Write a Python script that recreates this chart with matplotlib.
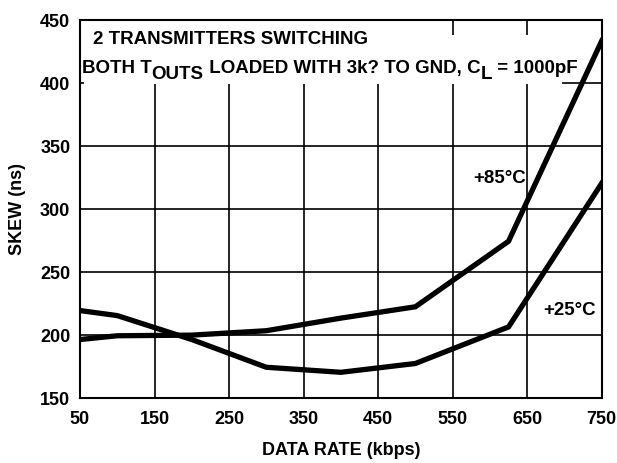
import matplotlib
matplotlib.use("Agg")
import matplotlib.pyplot as plt
from matplotlib.patches import Rectangle

# ---- data ----
x_rate = [50, 100, 200, 300, 400, 500, 625, 750]
skew_25c = [219, 215, 196, 174, 170, 177, 206, 320]
skew_85c = [196, 199, 199.5, 203, 213, 222, 274, 433]
x_ticks = [50, 150, 250, 350, 450, 550, 650, 750]
y_ticks = [150, 200, 250, 300, 350, 400, 450]

plt.rcParams['font.family'] = ['Liberation Sans', 'DejaVu Sans']
plt.rcParams['font.weight'] = 'bold'

W, H = 617, 464
fig = plt.figure(figsize=(W / 100, H / 100), dpi=100)
left, right, top, bottom = 80, 601.7, 20.5, 398.5
ax = fig.add_axes([left / W, 1 - bottom / H, (right - left) / W, (bottom - top) / H])

ax.set_xlim(50, 750)
ax.set_ylim(150, 450)
ax.set_xticks(x_ticks)
ax.set_yticks(y_ticks)
ax.set_xticklabels([str(v) for v in x_ticks], fontsize=13, fontweight='bold')
ax.set_yticklabels([str(v) for v in y_ticks], fontsize=13, fontweight='bold')
ax.tick_params(length=0, pad=7)
ax.tick_params(axis='x', pad=9)
ax.set_axisbelow(True)
ax.grid(True, color='black', linewidth=1.2)
for s in ax.spines.values():
    s.set_linewidth(1.5)

# white areas behind the annotation text
ax.add_patch(Rectangle((55.4, 399.2), 525 - 55.4, 449.3 - 399.2, facecolor='white',
                       edgecolor='none', zorder=1))
ax.add_patch(Rectangle((525, 399.2), 697 - 525, 438 - 399.2, facecolor='white',
                       edgecolor='none', zorder=1))

ax.plot(x_rate, skew_25c, color='black', linewidth=3.8, zorder=3, solid_joinstyle='miter')
ax.plot(x_rate, skew_85c, color='black', linewidth=3.8, zorder=3, solid_joinstyle='miter')

ax.set_xlabel('DATA RATE (kbps)', fontsize=13, fontweight='bold', labelpad=10)
ax.set_ylabel('SKEW (ns)', fontsize=13, fontweight='bold', labelpad=10)

ax.text(577, 321.3, '+85°C', fontsize=13.5, fontweight='bold', va='baseline', ha='left', zorder=4)
ax.text(671.5, 216.3, '+25°C', fontsize=13.5, fontweight='bold', va='baseline', ha='left', zorder=4)

fs = 13.5
fig.text(93.3 / W, 1 - 44.5 / H, '2 TRANSMITTERS SWITCHING', fontsize=fs, fontweight='bold',
         va='baseline', ha='left')
t = fig.text(82 / W, 1 - 73 / H, 'BOTH T', fontsize=fs, fontweight='bold',
             va='baseline', ha='left')
pieces = [('OUTS', -4.2), (' LOADED WITH 3k? TO GND, C', 4.2), ('L', -4.2), (' = 1000pF', 4.2)]
prev = t
for s, dy in pieces:
    prev = ax.annotate(s, xy=(1, 0), xycoords=prev, xytext=(0, dy), textcoords='offset points',
                       fontsize=fs, fontweight='bold', va='bottom', ha='left', zorder=5,
                       annotation_clip=False)

fig.savefig('out.png', dpi=100)
